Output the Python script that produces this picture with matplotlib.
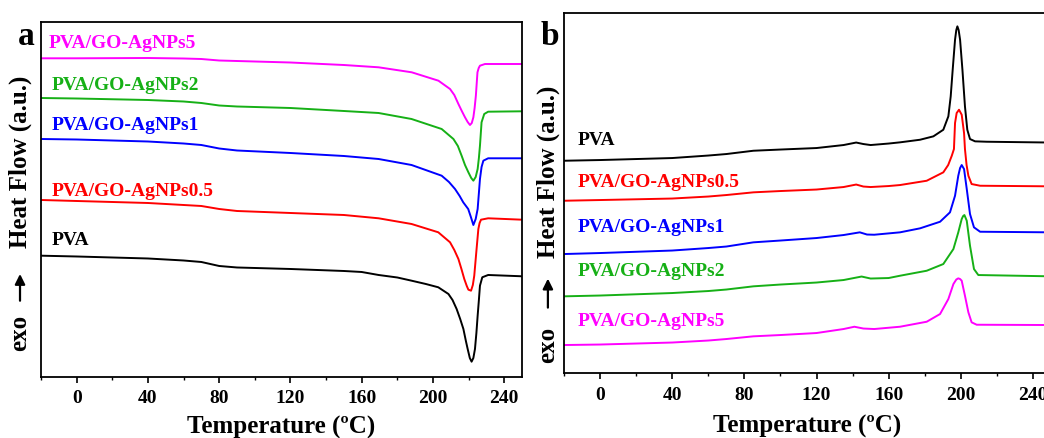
import matplotlib
matplotlib.use("Agg")
import matplotlib.pyplot as plt

plt.rcParams['font.family'] = ['Liberation Serif', 'DejaVu Serif']
plt.rcParams['font.weight'] = 'bold'

names = ["PVA", "PVA/GO-AgNPs0.5", "PVA/GO-AgNPs1", "PVA/GO-AgNPs2", "PVA/GO-AgNPs5"]
colors = ["#000000", "#ff0000", "#0000ff", "#16b016", "#ff00ff"]

# panel a: melting (endothermic dips), arbitrary units
Ta_pva = [-20, 0, 40, 60, 70, 80, 90, 120, 150, 160, 169.5, 180, 188, 196, 203, 208.7, 211, 213.3, 215.3,
          217.1, 218.5, 219.5, 220.7, 221.7, 222.7, 223.6, 224.4, 225.1, 225.8, 226.4, 227.7, 231, 250]
a_pva = [121.3, 120.5, 118.5, 116.5, 115, 111, 109.5, 108, 106, 105, 102, 99.5, 96.3, 93, 89.7, 83, 77, 68, 58,
         48, 36, 28, 19, 15.3, 19, 28, 44, 61.3, 77, 91.3, 99.7, 102, 100.7]
Ta_05 = [-20, 0, 40, 60, 70, 80, 90, 120, 150, 169.5, 188, 203, 209.6, 212, 214.3, 216, 217.6, 219, 219.9,
         221.4, 222.4, 223.2, 224.5, 225.5, 226.2, 227, 231, 250]
a_05 = [177, 176, 174, 172, 171, 168, 166, 164, 162, 158.7, 153, 144.7, 134.7, 127, 118, 108, 98, 91, 87.3,
        86.3, 92, 101.3, 128, 148, 154, 157.3, 158.7, 157.3]
Ta_1 = [-20, 0, 40, 60, 70, 80, 90, 120, 150, 169.5, 188, 204.9, 209, 212.4, 215, 217, 219.8, 221.3, 222.7,
        224, 225.1, 225.8, 226.4, 227.3, 228.3, 231, 250]
a_1 = [238, 237.5, 235.5, 233.5, 232, 228.5, 226.5, 224, 221, 218, 212, 201.3, 195, 188, 181, 174.7, 168, 160, 152,
       158, 168, 184, 198, 210, 216.3, 218.7, 218.7]
Ta_2 = [-20, 0, 40, 60, 70, 80, 90, 120, 150, 169.5, 188, 204.9, 211.5, 214, 216.1, 218, 219.9, 221.5, 222.7,
        224, 225.1, 225.8, 226.4, 227.3, 228.8, 231, 250]
a_2 = [279, 278.5, 277, 275.5, 274, 271.5, 270.5, 269, 266, 264, 258, 248, 238, 231, 221.3, 212, 204.7, 199, 196.3,
       200, 208, 219, 231.3, 254.7, 263, 265.3, 265.7]
Ta_5 = [-20, 0, 40, 60, 70, 80, 90, 120, 150, 169.5, 188.1, 203.1, 209.6, 212, 214.3, 216.2, 218, 219.5, 220.8,
        221.8, 222.7, 223.4, 224.1, 225, 225.7, 226.4, 229.2, 250]
a_5 = [318.7, 318.7, 319, 318.5, 318, 316.5, 316, 314.5, 312, 309.7, 304.7, 296.3, 288, 282, 273, 266, 259.7, 255, 252,
       254, 259.7, 269, 281.3, 304.7, 309, 311.3, 313, 313]

# panel b: crystallisation (exothermic peaks)
Tb_pva = [-20, 0, 40, 60, 70, 85, 100, 120, 135, 142, 146, 150, 160, 166.3, 177.4, 184.8, 190.3, 193.1, 194.4,
          195.5, 196.8, 197.5, 198.1, 198.8, 199.6, 200.9, 202.3, 203.6, 205.1, 207.9, 214.4, 250]
b_pva = [212.3, 213, 215, 217.5, 219, 222.3, 223.5, 225, 228, 230.5, 229, 228, 229.5, 230.7, 233.3, 236.7, 243.3, 256.7, 276.7,
         303.3, 333.3, 343, 346.7, 343, 333.3, 303.3, 266.7, 243.3, 234, 231.7, 231.3, 230.5]
Tb_05 = [-20, 0, 40, 60, 70, 85, 100, 120, 135, 142, 146, 150, 160, 166.3, 181.1, 190.3, 193, 195, 196.2,
         196.8, 197.7, 199, 200.5, 201.8, 202.3, 203.2, 204.2, 206, 210.7, 250]
b_05 = [172.3, 173, 174.5, 176.5, 178, 180.7, 182, 183.5, 186, 188.5, 186.5, 186, 187, 188, 192.3, 200.7, 208, 217.3, 224,
        250, 260, 263.3, 258.3, 240, 224, 208, 197.3, 189, 187.3, 186.7]
Tb_1 = [-20, 0, 40, 60, 70, 85, 100, 120, 135, 144, 148, 152, 166.3, 177.4, 188.5, 194, 196.8, 198.6, 199.6,
        200.5, 201.8, 203.3, 205.1, 207.3, 210.7, 250]
b_1 = [119, 120, 122.5, 125, 126.5, 130.7, 132.5, 135, 138, 140.7, 138.5, 138.3, 140.7, 144.7, 151.3, 160.7, 177.3, 197.3, 205,
       208, 204, 184, 159, 145.7, 141.3, 140.7]
Tb_2 = [-20, 0, 40, 60, 70, 85, 100, 120, 135, 145, 150, 160, 166.3, 181.1, 190.3, 195.9, 198.6, 200.5, 201.3,
        202, 203.3, 205.1, 207.3, 209.7, 250]
b_2 = [76.7, 77.5, 80, 82, 83.5, 86.7, 88.5, 90.5, 93, 96.5, 94.5, 95, 97.3, 102.3, 109, 124, 140.7, 154, 157,
       158, 152.3, 127.3, 104, 98, 96.7]
Tb_5 = [-20, 0, 40, 60, 70, 85, 100, 120, 135, 141, 146, 152, 166.3, 181.1, 188.5, 193.1, 195.9, 197.5, 198.6,
        199.6, 200.5, 202.3, 204.2, 206, 208.8, 250]
b_5 = [28, 28.5, 30.5, 32.5, 34, 36.7, 38, 40, 44, 46.3, 44.5, 44, 46.3, 51.3, 59, 74, 89, 93.5, 94.7,
       94, 92.3, 77.3, 60.7, 50.7, 48.3, 48]

xticks = [0, 40, 80, 120, 160, 200, 240]

fig = plt.figure(figsize=(10.44, 4.39), dpi=100)
ax_a = fig.add_axes([0.0393, 0.139, 0.4607, 0.8086])
ax_b = fig.add_axes([0.5402, 0.148, 0.4665, 0.820])

curves_a = [(Ta_pva, a_pva), (Ta_05, a_05), (Ta_1, a_1), (Ta_2, a_2), (Ta_5, a_5)]
curves_b = [(Tb_pva, b_pva), (Tb_05, b_05), (Tb_1, b_1), (Tb_2, b_2), (Tb_5, b_5)]
label_pos_a = [(-14, 137), (-14, 186), (-14, 252), (-14, 292), (-15.5, 335)]
label_pos_b = [(-12.2, 234), (-12.2, 192), (-12.2, 147), (-12.2, 102.3), (-12.2, 52.3)]

for ax, curves, lpos, ylim, lp in [(ax_a, curves_a, label_pos_a, 355, 6), (ax_b, curves_b, label_pos_b, 360, 8)]:
    for (t, v), name, c, (lx, ly) in zip(curves, names, colors, lpos):
        ax.plot(t, v, color=c, lw=1.4)
        ax.text(lx, ly, name, color=c, fontsize=14, fontweight='bold', va='center', ha='left')
    ax.set_xlim(-20, 250)
    ax.set_ylim(0, ylim)
    ax.set_yticks([])
    ax.set_xticks(xticks)
    ax.set_xticks(range(-20, 251, 20), minor=True)
    ax.tick_params(axis='x', which='major', direction='out', length=4, width=1.2, labelsize=14, pad=5)
    ax.tick_params(axis='x', which='minor', direction='out', length=2.5, width=1.0)
    for lab in ax.get_xticklabels():
        lab.set_fontweight('bold')
    for s in ax.spines.values():
        s.set_linewidth(1.3)
    ax.set_xlabel("Temperature (ºC)", fontsize=18, fontweight='bold', labelpad=lp)

# y labels with exo arrow
for ax, xf, yh, yexo, ya0, ya1 in [(ax_a, -0.0437, 0.608, 0.127, 0.207, 0.298),
                                   (ax_b, -0.033, 0.561, 0.08, 0.174, 0.27)]:
    ax.text(xf, yh, "Heat Flow (a.u.)", transform=ax.transAxes, rotation=90, fontsize=18,
            fontweight='bold', ha='center', va='center', clip_on=False)
    ax.text(xf, yexo, "exo", transform=ax.transAxes, rotation=90, fontsize=18,
            fontweight='bold', ha='center', va='center', clip_on=False)
    ax.annotate("", xy=(xf, ya1), xytext=(xf, ya0), xycoords='axes fraction',
                arrowprops=dict(arrowstyle='-|>', color='black', lw=1.6, mutation_scale=15))

fig.text(0.025, 0.916, "a", fontsize=24, fontweight='bold', ha='center', va='center')
fig.text(0.527, 0.916, "b", fontsize=24, fontweight='bold', ha='center', va='center')

fig.savefig("out.png", dpi=100)
